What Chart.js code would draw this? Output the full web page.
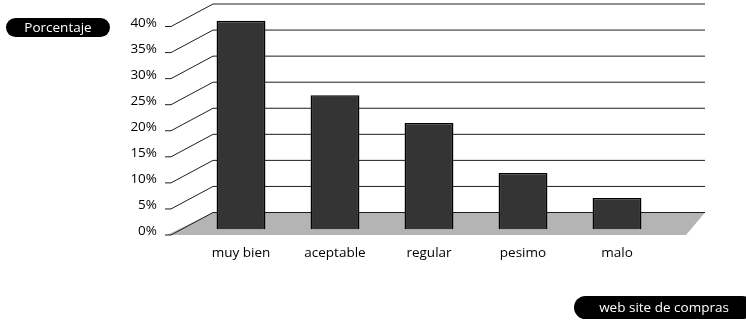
<!DOCTYPE html>
<html>
<head>
<meta charset="utf-8">
<script src="https://cdn.jsdelivr.net/npm/chart.js@4.4.1/dist/chart.umd.min.js"></script>
<style>
  html, body { margin: 0; padding: 0; background: #ffffff; }
  #wrap { width: 746px; height: 324px; }
</style>
</head>
<body>
<div id="wrap"><canvas id="c" width="746" height="324"></canvas></div>
<script>
// ---- data ----
const categories = ['muy bien', 'aceptable', 'regular', 'pesimo', 'malo'];
const porcentaje = [40, 25.7, 20.4, 10.8, 6.0];
const yAxisTitle = 'Porcentaje';
const xAxisTitle = 'web site de compras';
const yMin = 0;
const yMax = 40;
const yStep = 5;

// ---- style ----
const FONT = '"Open Sans", "Noto Sans", sans-serif';
const FONT_SIZE = 13.5;
const DEPTH_DX = 46;
const DEPTH_DY = 22.5;
const FRONT_DY = 3.5;
const BAR_DY = -2.2;

const pseudo3d = {
  id: 'pseudo3d',
  beforeDatasetsDraw(chart) {
    const { ctx, chartArea: a, scales: { y } } = chart;
    const fl = a.left - 27;
    const fr = a.right + 22;
    const bl = fl + DEPTH_DX;
    const br = a.right + 41;
    const y0f = y.getPixelForValue(yMin) + FRONT_DY;
    const y0b = y0f - DEPTH_DY;
    ctx.save();
    ctx.fillStyle = '#b4b4b4';
    ctx.beginPath();
    ctx.moveTo(fl, y0f);
    ctx.lineTo(bl, y0b);
    ctx.lineTo(br, y0b);
    ctx.lineTo(fr, y0f);
    ctx.closePath();
    ctx.fill();
    ctx.strokeStyle = '#1e1e1e';
    ctx.lineWidth = 1;
    for (let v = yMin; v <= yMax; v += yStep) {
      const yf = y.getPixelForValue(v) + FRONT_DY;
      const yb = yf - DEPTH_DY;
      ctx.beginPath();
      ctx.moveTo(fl - 2, yf);
      ctx.lineTo(fl + 4, yf);
      ctx.lineTo(bl, yb);
      ctx.lineTo(br, yb);
      ctx.stroke();
    }
    ctx.restore();
    ctx.save();
    ctx.translate(0, BAR_DY);
  },
  afterDatasetsDraw(chart) {
    chart.ctx.restore();
  },
  afterDraw(chart) {
    const { ctx } = chart;
    const pill = (x, y, w, h, text, cx) => {
      ctx.save();
      ctx.fillStyle = '#000';
      ctx.beginPath();
      ctx.roundRect(x, y, w, h, h / 2);
      ctx.fill();
      ctx.fillStyle = '#fff';
      ctx.font = FONT_SIZE + 'px ' + FONT;
      ctx.textAlign = 'center';
      ctx.textBaseline = 'middle';
      ctx.fillText(text, cx, y + h / 2 + 0.5);
      ctx.restore();
    };
    pill(6, 18, 104, 19, yAxisTitle, 58);
    pill(574, 296, 180, 23, xAxisTitle, 664);
  }
};

new Chart(document.getElementById('c'), {
  type: 'bar',
  data: {
    labels: categories,
    datasets: [{
      label: yAxisTitle,
      data: porcentaje,
      backgroundColor: '#343434',
      borderColor: '#000000',
      borderWidth: 1.5,
      barPercentage: 0.52,
      categoryPercentage: 1.0,
      clip: false
    }]
  },
  options: {
    responsive: false,
    animation: false,
    devicePixelRatio: 1,
    layout: { padding: { left: 104, right: 82, top: 23, bottom: 52.5 } },
    plugins: {
      legend: { display: false },
      tooltip: { enabled: false }
    },
    scales: {
      x: {
        grid: { display: false, drawTicks: false },
        border: { display: false },
        ticks: { color: '#000', font: { family: FONT, size: FONT_SIZE }, padding: 14, maxRotation: 0 },
        afterFit(s) { s.height = 40; s.paddingLeft = 0; s.paddingRight = 0; }
      },
      y: {
        min: yMin,
        max: yMax,
        grid: { display: false, drawTicks: false },
        border: { display: false },
        ticks: {
          stepSize: yStep,
          color: '#000',
          font: { family: FONT, size: FONT_SIZE },
          padding: 37,
          callback: (v) => v + '%'
        },
        afterFit(s) { s.width = 90; s.paddingTop = 0; s.paddingBottom = 0; }
      }
    }
  },
  plugins: [pseudo3d]
});
</script>
</body>
</html>
